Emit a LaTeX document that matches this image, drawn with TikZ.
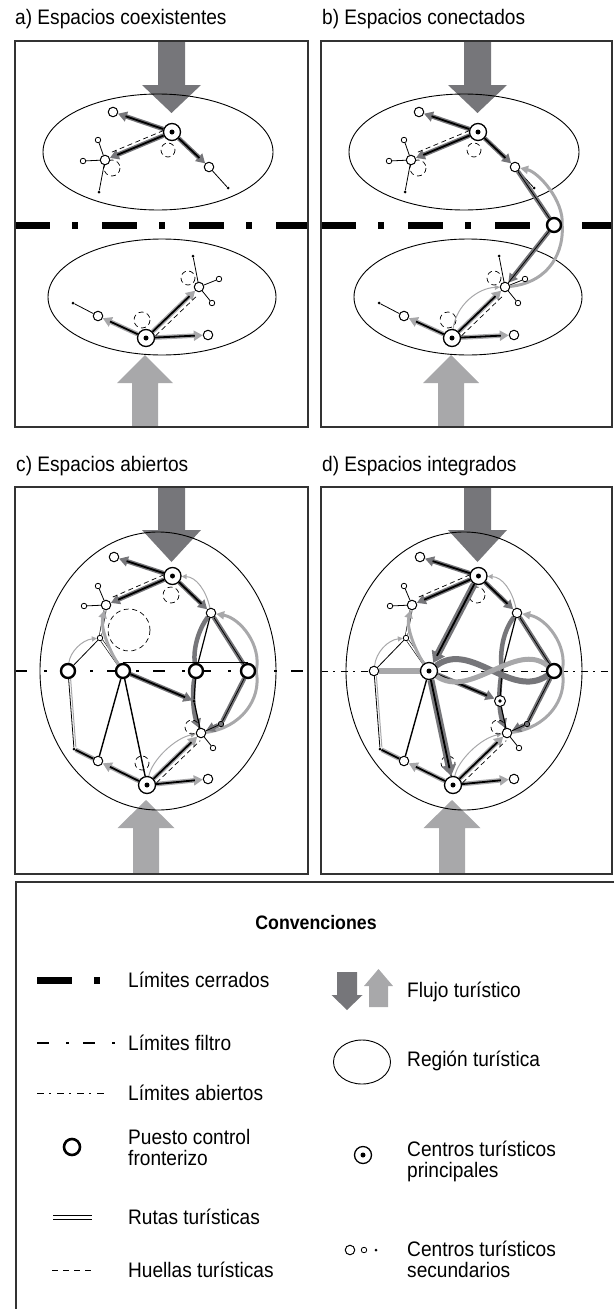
\documentclass[tikz,border=0pt]{standalone}
\usepackage{fontspec}
\setmainfont{Liberation Sans}[FakeStretch=0.91]
\usetikzlibrary{arrows.meta, calc}

\definecolor{flujoosc}{RGB}{118,118,122}
\definecolor{flujoclaro}{RGB}{168,168,170}

\pgfdeclarelayer{fondo}
\pgfdeclarelayer{rutas}
\pgfsetlayers{fondo,rutas,main}

\newcommand\flecha[7]{\fill[#1] (#2-#6,#3) -- (#2+#6,#3) -- (#2+#6,#4) -- (#2+#7,#4) -- (#2,#5) -- (#2-#7,#4) -- (#2-#6,#4) -- cycle;}

\newcommand\regionesab[1]{%
\begin{pgfonlayer}{fondo}
  \flecha{flujoosc}{171.5}{41}{85}{113}{13.5}{29.5}
  \flecha{flujoclaro}{145}{427}{383}{355}{13}{28}
  \draw[borde] (158,152) ellipse [x radius=115, y radius=58];
  \draw[borde] (162,297) ellipse [x radius=114, y radius=58];
  \draw[cerrado] (15,225) -- (307,225);
\end{pgfonlayer}
\node[principal] (#1P1) at (172,132) {};
\node[secundario] (#1A) at (113,112) {};
\node[secundario] (#1B) at (105,160) {};
\node[menor] (#1B1) at (98,140) {};
\node[menor] (#1B2) at (83,161) {};
\node[punto] (#1B3) at (99,192) {};
\node[secundario] (#1C) at (209,167) {};
\node[punto] (#1C1) at (228,188) {};
\node[principal] (#1P2) at (146,338) {};
\node[secundario] (#1D) at (98,316) {};
\node[punto] (#1D1) at (73,303) {};
\node[secundario] (#1E) at (199,287) {};
\node[punto] (#1E1) at (193,256) {};
\node[menor] (#1E2) at (219,279) {};
\node[menor] (#1E3) at (212,303) {};
\node[secundario] (#1F) at (208,335) {};
\begin{pgfonlayer}{rutas}
  \draw[banda, flujoosc] (#1P1) -- (#1A);
  \draw[rutaf] (#1P1) -- (#1A);
  \draw[banda, flujoosc] (#1P1) -- (#1B);
  \draw[rutaf] (#1P1) -- (#1B);
  \draw[banda, flujoosc] (#1P1) -- (#1C);
  \draw[rutaf] (#1P1) -- (#1C);
  \draw[fina] (#1C) -- (#1C1);
  \draw[fina] (#1B) -- (#1B1);
  \draw[fina] (#1B) -- (#1B2);
  \draw[fina] (#1B) -- (#1B3);
  \draw[huella, transform canvas={yshift=5pt}] (#1P1) -- (#1B);
  \draw[huella] (168,150) circle (7);
  \draw[huella] (112,168) circle (8);
  \draw[banda, flujoclaro] (#1P2) -- (#1D);
  \draw[rutaf] (#1P2) -- (#1D);
  \draw[banda, flujoclaro] (#1P2) -- (#1E);
  \draw[rutaf] (#1P2) -- (#1E);
  \draw[banda, flujoclaro] (#1P2) -- (#1F);
  \draw[rutaf] (#1P2) -- (#1F);
  \draw[fina] (#1D) -- (#1D1);
  \draw[fina] (#1E) -- (#1E1);
  \draw[fina] (#1E) -- (#1E2);
  \draw[fina] (#1E) -- (#1E3);
  \draw[huella, transform canvas={xshift=3pt, yshift=-4pt}] (#1P2) -- (#1E);
  \draw[huella] (142,320) circle (8);
  \draw[huella] (188,278) circle (7);
\end{pgfonlayer}}

\newcommand\regionescd[5]{%
\begin{pgfonlayer}{fondo}
  \flecha{flujoosc}{171.5}{487}{530}{562}{13.5}{29.5}
  \flecha{flujoclaro}{146}{874}{828}{800}{13}{28.5}
  \draw[borde] (158,671) ellipse [x radius=118, y radius=139];
\end{pgfonlayer}
\node[principal] (#1P1) at (172.5,576) {};
\node[secundario] (#1A) at (114,557) {};
\node[secundario] (#1B) at (106,605) {};
\node[menor] (#1B1) at (98,586) {};
\node[menor] (#1B2) at (84,606) {};
\node[secundario] (#1C) at (211,613) {};
\node[menor] (#1H) at (100,638) {};
\node[#2] (#1K1) at (68,671) {};
\node[#3] (#1K2) at (123,671) {};
\node[#5] (#1K3) at (196,671) {};
\node[puesto] (#1K4) at (248,671) {};
\node[#4] (#1X) at (194,701) {};
\node[menor, fill=flujoosc] (#1Y) at (221,724) {};
\node[secundario] (#1E) at (201,733) {};
\node[menor] (#1E1) at (213,748) {};
\node[punto] (#1Z) at (74,749) {};
\node[secundario] (#1D) at (98,761) {};
\node[principal] (#1P2) at (147,785) {};
\node[secundario] (#1F) at (208,779) {};
\begin{pgfonlayer}{rutas}
  \draw[banda, flujoosc] (#1P1) -- (#1A);
  \draw[rutaf] (#1P1) -- (#1A);
  \draw[banda, flujoosc] (#1P1) -- (#1B);
  \draw[rutaf] (#1P1) -- (#1B);
  \draw[banda, flujoosc] (#1P1) -- (#1C);
  \draw[rutaf] (#1P1) -- (#1C);
  \draw[arco] (#1C) .. controls (206,590) and (196,577) .. (#1P1);
  \draw[bandasin, flujoosc] (#1C) -- (#1K4);
  \draw[fina] (#1C) -- (#1K4);
  \draw[claroancho] (#1E) .. controls (240,728) and (262,700) .. (#1K4.east) .. controls (262,645) and (240,618) .. (#1C);
  \draw[banda, flujoosc] (#1K4) -- (#1Y) -- (#1E);
  \draw[fina] (#1K4) -- (#1Y) -- (#1E);
  \draw[bandasin, flujoosc] (#1C) .. controls (198,630) and (193,650) .. (#1K3);
  \draw[banda, flujoosc] (#1K3) .. controls (192,690) and (193,712) .. (#1E);
  \draw[ruta, line width=1.2pt] (#1C) -- (#1K3) -- (#1X) -- (#1E);
  \draw[banda, flujoosc] (#1K2) -- (#1X);
  \draw[rutaf] (#1K2) -- (#1X);
  \draw[ruta, line width=1.4pt] (#1K2) -- (#1D);
  \draw[ruta, line width=1.4pt] (#1K2) -- (#1P2);
  \draw[fina] (#1K1) -- (#1H);
  \draw[arco] (#1K1) .. controls (70,652) and (82,640) .. (#1H);
  \draw[doble] (#1H) -- (#1B);
  \draw[doble] (#1H) -- (#1K2);
  \draw[claroancho] (#1K2) .. controls (110,652) and (100,628) .. (#1B);
  \draw[fina] (#1K1) -- (#1Z);
  \draw[flujoclaro, line width=1pt, transform canvas={xshift=2pt}] (#1K1) -- (#1Z);
  \draw[bandasin, flujoclaro] (#1Z) -- (#1D);
  \draw[ruta] (#1Z) -- (#1D);
  \draw[banda, flujoclaro] (#1P2) -- (#1D);
  \draw[rutaf] (#1P2) -- (#1D);
  \draw[banda, flujoclaro] (#1P2) -- (#1E);
  \draw[rutaf] (#1P2) -- (#1E);
  \draw[arco] (#1P2) .. controls (152,760) and (175,738) .. (#1E);
  \draw[banda, flujoclaro] (#1P2) -- (#1F);
  \draw[rutaf] (#1P2) -- (#1F);
  \draw[fina] (#1B) -- (#1B1);
  \draw[fina] (#1B) -- (#1B2);
  \draw[fina] (#1E) -- (#1E1);
  \draw[huella, transform canvas={yshift=5pt}] (#1P1) -- (#1B);
  \draw[huella, transform canvas={xshift=3pt, yshift=-4pt}] (#1P2) -- (#1E);
  \draw[huella] (171,595) circle (8);
  \draw[huella] (142,763) circle (7);
  \draw[huella] (192,727) circle (7);
\end{pgfonlayer}}

\begin{document}
\begin{tikzpicture}[x=1pt, y=-1pt,
  marco/.style={draw=black!80, line width=1.2pt},
  borde/.style={line width=0.9pt},
  titulo/.style={anchor=base west, inner sep=0pt, font=\fontsize{21}{22}\selectfont},
  leyenda/.style={anchor=west, inner sep=0pt, align=left, font=\fontsize{21}{21}\selectfont},
  principal/.style={circle, draw, fill=white, line width=1.3pt, minimum size=17pt, inner sep=0pt, label={[circle, fill=black, inner sep=0pt, minimum size=5pt]center:}},
  princhico/.style={circle, draw, fill=white, line width=1pt, minimum size=11pt, inner sep=0pt, label={[circle, fill=black, inner sep=0pt, minimum size=3.6pt]center:}},
  secundario/.style={circle, draw, fill=white, line width=1pt, minimum size=9.5pt, inner sep=0pt},
  menor/.style={circle, draw, fill=white, line width=0.8pt, minimum size=5.5pt, inner sep=0pt},
  punto/.style={circle, fill=black, minimum size=3pt, inner sep=0pt},
  puesto/.style={circle, draw, fill=white, line width=2.4pt, minimum size=14pt, inner sep=0pt},
  ruta/.style={line width=1.8pt},
  rutaf/.style={ruta, shorten >=8pt},
  fina/.style={line width=0.8pt},
  doble/.style={double, line width=0.6pt, double distance=1.6pt},
  banda/.style={line width=4.5pt, -{Triangle[length=9pt, width=10pt]}},
  bandasin/.style={line width=4.5pt},
  bandagruesa/.style={line width=7pt, -{Triangle[length=11pt, width=14pt]}},
  claroancho/.style={flujoclaro, line width=3pt, -{Triangle[length=8pt, width=8pt]}},
  arco/.style={flujoclaro, line width=1pt, -{Triangle[length=5pt, width=5pt]}},
  huella/.style={line width=0.7pt, dash pattern=on 5pt off 3.5pt},
  cerrado/.style={line width=7pt, dash pattern=on 35pt off 22pt on 6pt off 24pt},
  filtro/.style={line width=2.5pt, dash pattern=on 12pt off 17pt on 3pt off 14pt},
  abierto/.style={line width=0.7pt, dash pattern=on 7pt off 5pt on 1.5pt off 6.5pt}]
\useasboundingbox (0,0) rectangle (614,1309);

\node[titulo] (ta) at (15,24) {a) Espacios coexistentes};
\node[titulo] (tb) at (322,24) {b) Espacios conectados};
\node[titulo] (tc) at (16,471) {c) Espacios abiertos};
\node[titulo] (td) at (322,471) {d) Espacios integrados};

\regionesab{a}
\begin{scope}[shift={(306,0)}]
\regionesab{b}
\node[puesto] (bG) at (248,225) {};
\begin{pgfonlayer}{rutas}
  \draw[bandasin, flujoosc] (bC) -- (bG);
  \draw[banda, flujoosc] (bG) -- (bE);
  \draw[fina] (bC) -- (bG) -- (bE);
  \draw[claroancho] (bE) .. controls (245,282) and (258,250) .. (bG.east) .. controls (258,200) and (232,172) .. (bC);
  \draw[arco] (bP2) .. controls (150,305) and (172,288) .. (bE);
\end{pgfonlayer}
\end{scope}

\regionescd{c}{puesto}{puesto}{punto}{puesto}
\begin{pgfonlayer}{fondo}
  \draw[filtro] (15,671) -- (307,671);
\end{pgfonlayer}
\begin{pgfonlayer}{rutas}
  \draw[fina] (cK2.north) -- (cK4.north);
  \draw[huella] (129,630) circle (21);
\end{pgfonlayer}

\begin{scope}[shift={(306,0)}]
\regionescd{d}{secundario}{principal}{princhico}{coordinate}
\begin{pgfonlayer}{fondo}
  \draw[abierto] (15,671) -- (306,671);
\end{pgfonlayer}
\begin{pgfonlayer}{rutas}
  \draw[bandagruesa, flujoosc] (dP1) -- (dK2);
  \draw[rutaf] (dP1) -- (dK2);
  \draw[bandagruesa, flujoosc] (dK2) -- (dP2);
  \draw[rutaf] (dK2) -- (dP2);
  \draw[flujoclaro, line width=6pt] (dK1) -- (dK2);
  \draw[flujoosc, line width=6pt] (dK2) .. controls (165,640) and (205,700) .. (dK4);
  \draw[flujoclaro, line width=5pt] (dK4) .. controls (210,640) and (165,700) .. (dK2);
\end{pgfonlayer}
\end{scope}

\draw[marco] (15,41) rectangle (308,427);
\draw[marco] (321,41) rectangle (612,427);
\draw[marco] (15,487) rectangle (308,874);
\draw[marco] (321,487) rectangle (612,874);
\draw[marco] (614,882) -- (16,882) -- (16,1309);

\node[font=\bfseries\fontsize{19.5}{20}\selectfont] (conv) at (316,923) {Convenciones};

\draw[cerrado] (37,980) -- (100,980);
\node[leyenda] (lcerr) at (128,980) {Límites cerrados};
\draw[filtro] (37,1043) -- (115,1043);
\node[leyenda] (lfilt) at (128,1043) {Límites filtro};
\draw[abierto] (37,1093) -- (104,1093);
\node[leyenda] (labie) at (128,1093) {Límites abiertos};
\node[puesto, minimum size=16pt, line width=2.6pt] (lpues) at (72,1147) {};
\node[leyenda] (lpuest) at (128,1147) {Puesto control\\fronterizo};
\draw[doble, line width=1pt, double distance=3pt] (53,1217) -- (92,1217);
\node[leyenda] (lruta) at (128,1217) {Rutas turísticas};
\draw[huella, dash pattern=on 6pt off 5pt] (52,1270) -- (93,1270);
\node[leyenda] (lhuel) at (128,1270) {Huellas turísticas};

\flecha{flujoosc}{347}{972}{995}{1010}{10}{15.5}
\flecha{flujoclaro}{378.5}{1007}{986}{969}{9.5}{14.5}
\node[leyenda] (lflu) at (407,992) {Flujo turístico};
\draw[borde] (362,1062) ellipse [x radius=28.5, y radius=22];
\node[leyenda] (lreg) at (407,1061) {Región turística};
\node[principal] (lprin) at (363,1155) {};
\node[leyenda] (lcprin) at (407,1161) {Centros turísticos\\principales};
\node[secundario] (lsec1) at (350,1250) {};
\node[menor] (lsec2) at (364,1250) {};
\node[punto] (lsec3) at (376,1250) {};
\node[leyenda] (lcsec) at (407,1259) {Centros turísticos\\secundarios};
\end{tikzpicture}
\end{document}
